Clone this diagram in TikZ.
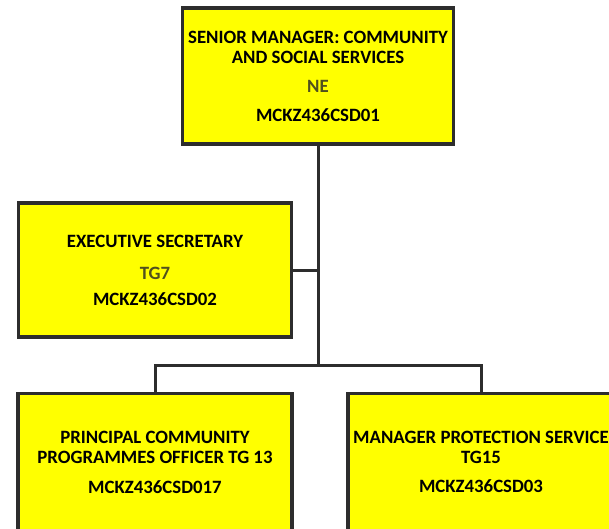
\documentclass[tikz,border=0pt]{standalone}
\usepackage{fontspec}
\setmainfont{Carlito}
\usepackage{tikz}
\usetikzlibrary{calc}
\definecolor{postyellow}{RGB}{255,255,0}
\definecolor{postline}{RGB}{45,45,45}
\definecolor{gradecol}{RGB}{80,80,30}
\tikzset{post/.style={draw=postline, line width=3.5pt, fill=postyellow, align=center, inner sep=0pt, font=\bfseries\fontsize{18.8}{20}\selectfont}}
\tikzset{link/.style={draw=postline, line width=3pt}}

\begin{document}
\begin{tikzpicture}[x=1pt,y=-1pt]
\clip (0,0) rectangle (609,528);
\fill[white] (0,0) rectangle (609,528);
\node[post, minimum width=271pt, minimum height=136pt] (senior) at (318,76) {SENIOR MANAGER: COMMUNITY\\AND SOCIAL SERVICES\\[9pt]\textcolor{gradecol}{NE}\\[9pt]MCKZ436CSD01};
\node[post, minimum width=273pt, minimum height=134pt] (exec) at (155,270) {EXECUTIVE SECRETARY\\[12pt]\textcolor{gradecol}{TG7}\\[6pt]MCKZ436CSD02};
\node[post, minimum width=274pt, minimum height=137pt] (principal) at (155,462) {PRINCIPAL COMMUNITY\\PROGRAMMES OFFICER TG 13\\[10pt]MCKZ436CSD017};
\node[post, minimum width=266pt, minimum height=137pt] (protection) at (481,462) {MANAGER PROTECTION SERVICE\\TG15\\[9pt]MCKZ436CSD03};
\coordinate (split) at (senior.south |- 0,365);
\draw[link] (senior.south) -- (split);
\draw[link] (exec.east) -- (exec.east -| split);
\draw[link] (principal.north) |- (split) -| (protection.north);
\end{tikzpicture}
\end{document}
